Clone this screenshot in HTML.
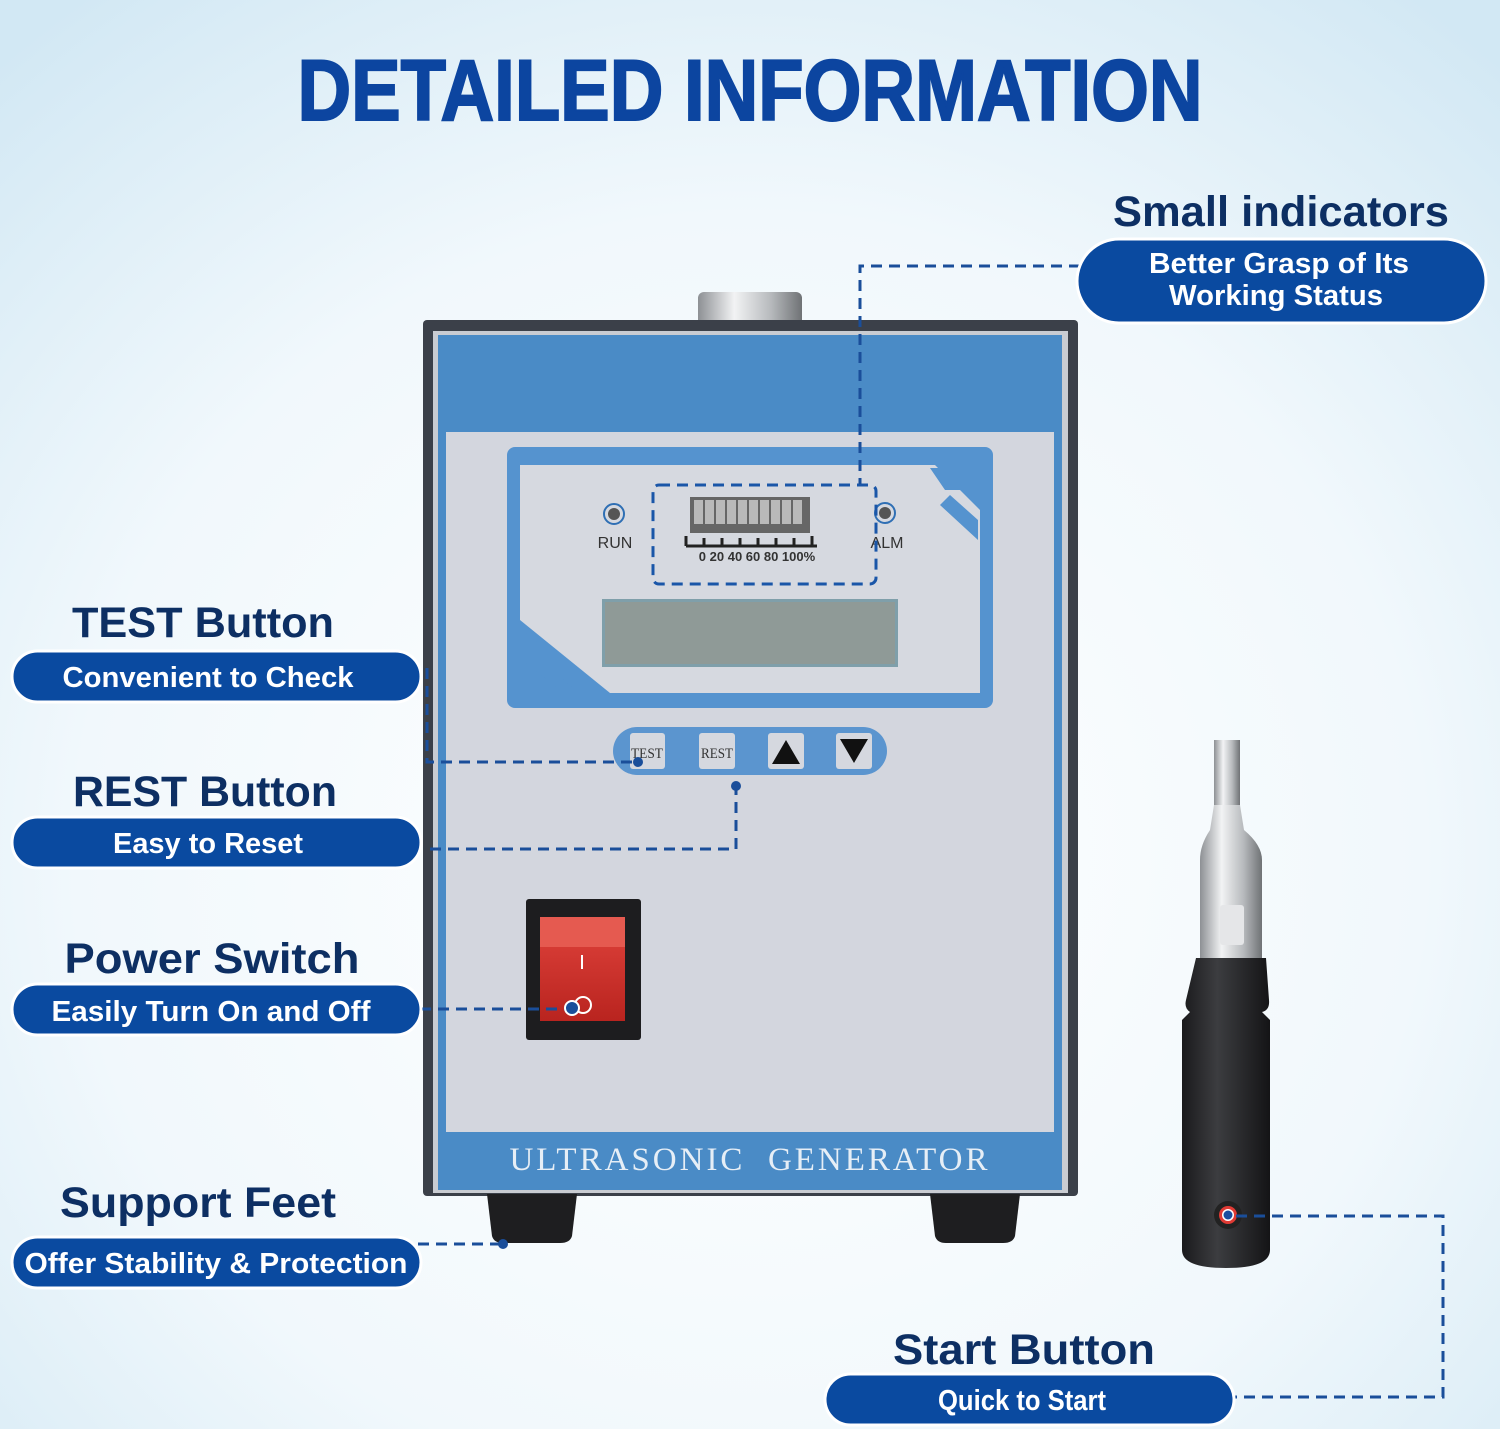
<!DOCTYPE html>
<html><head><meta charset="utf-8"><style>
html,body{margin:0;padding:0;width:1500px;height:1429px;overflow:hidden}
</style></head><body>
<svg width="1500" height="1429" viewBox="0 0 1500 1429" xmlns="http://www.w3.org/2000/svg" font-family="Liberation Sans, sans-serif">
<defs>
<radialGradient id="bg" cx="0.5" cy="0.6" r="0.75">
<stop offset="0" stop-color="#ffffff"/><stop offset="0.6" stop-color="#f1f8fc"/><stop offset="1" stop-color="#d2e8f4"/>
</radialGradient>
<linearGradient id="silver" x1="0" x2="1"><stop offset="0" stop-color="#8d9094"/><stop offset="0.35" stop-color="#f2f3f4"/><stop offset="0.7" stop-color="#b7babd"/><stop offset="1" stop-color="#6f7275"/></linearGradient>
<linearGradient id="blk" x1="0" x2="1"><stop offset="0" stop-color="#1a1a1c"/><stop offset="0.4" stop-color="#3c3d40"/><stop offset="1" stop-color="#141416"/></linearGradient>
<linearGradient id="red" x1="0" y1="0" x2="0" y2="1"><stop offset="0" stop-color="#e0433c"/><stop offset="1" stop-color="#b9241f"/></linearGradient>
</defs>
<rect width="1500" height="1429" fill="url(#bg)"/>
<text x="750" y="120" text-anchor="middle" font-size="86" font-weight="bold" fill="#0c45a0" textLength="905" lengthAdjust="spacingAndGlyphs" stroke="#0c45a0" stroke-width="2">DETAILED INFORMATION</text>

<!-- device -->
<rect x="698" y="292" width="104" height="34" rx="6" fill="url(#silver)"/>
<rect x="423" y="320" width="655" height="876" rx="4" fill="#3b4049"/>
<rect x="433" y="331" width="635" height="862" fill="#c9ccd2"/>
<rect x="438" y="335" width="624" height="855" fill="#4a8bc6"/>
<rect x="446" y="432" width="608" height="700" fill="#d3d6de"/>
<text x="750" y="1170" text-anchor="middle" font-family="Liberation Serif, serif" font-size="33" fill="#e6eef6" letter-spacing="3" xml:space="preserve">ULTRASONIC  GENERATOR</text>
<!-- display -->
<rect x="507" y="447" width="486" height="261" rx="8" fill="#5593cf"/>
<path d="M520 465 H935 L980 510 V693 H610 L520 620 Z" fill="#d6d9e0"/>
<path d="M930 468 L960 468 L975 490 L945 490Z M950 495 L978 520 L978 540 L940 505Z" fill="#5593cf"/>
<path d="M522 630 L560 660 L560 690 L522 660Z M540 640 L600 690 L575 690 L535 655Z" fill="#5593cf"/>
<rect x="602" y="599" width="296" height="68" fill="#7f9faa"/>
<rect x="605" y="602" width="290" height="62" fill="#8f9a97"/>
<circle cx="614" cy="514" r="10" fill="none" stroke="#2f6fb4" stroke-width="2"/><circle cx="614" cy="514" r="6" fill="#555"/>
<circle cx="885" cy="513" r="10" fill="none" stroke="#2f6fb4" stroke-width="2"/><circle cx="885" cy="513" r="6" fill="#555"/>
<text x="615" y="548" text-anchor="middle" font-size="16" fill="#333">RUN</text>
<text x="887" y="548" text-anchor="middle" font-size="16" fill="#333">ALM</text>
<rect x="690" y="497" width="120" height="36" fill="#666"/>
<g fill="#b9b9b9"><rect x="694" y="500" width="9" height="24"/><rect x="705" y="500" width="9" height="24"/><rect x="716" y="500" width="9" height="24"/><rect x="727" y="500" width="9" height="24"/><rect x="738" y="500" width="9" height="24"/><rect x="749" y="500" width="9" height="24"/><rect x="760" y="500" width="9" height="24"/><rect x="771" y="500" width="9" height="24"/><rect x="782" y="500" width="9" height="24"/><rect x="793" y="500" width="9" height="24"/></g>
<path d="M686 546 H817 M686 536 V546 M704 538 V546 M722 538 V546 M740 538 V546 M758 538 V546 M776 538 V546 M794 538 V546 M812 536 V546" stroke="#222" stroke-width="3" fill="none"/>
<text x="757" y="561" text-anchor="middle" font-size="13" font-weight="bold" fill="#333">0  20 40 60 80 100%</text>
<rect x="653" y="485" width="223" height="99" rx="6" fill="none" stroke="#1a56a8" stroke-width="3" stroke-dasharray="11 7"/>
<!-- buttons -->
<rect x="613" y="727" width="274" height="48" rx="24" fill="#5b95cf"/>
<rect x="630" y="733" width="35" height="36" rx="3" fill="#d5d8df"/>
<rect x="699" y="733" width="36" height="36" rx="3" fill="#d5d8df"/>
<rect x="768" y="733" width="36" height="36" rx="3" fill="#d5d8df"/>
<rect x="836" y="733" width="36" height="36" rx="3" fill="#d5d8df"/>
<text x="647" y="758" text-anchor="middle" font-family="Liberation Serif, serif" font-size="15" fill="#333" textLength="32" lengthAdjust="spacingAndGlyphs">TEST</text>
<text x="717" y="758" text-anchor="middle" font-family="Liberation Serif, serif" font-size="15" fill="#333" textLength="32" lengthAdjust="spacingAndGlyphs">REST</text>
<path d="M772 764 L786 740 L800 764Z" fill="#111"/>
<path d="M840 739 L868 739 L854 763Z" fill="#111"/>
<!-- switch -->
<rect x="526" y="899" width="115" height="141" rx="3" fill="#1d1d1f"/>
<rect x="540" y="917" width="85" height="104" fill="url(#red)"/>
<rect x="540" y="917" width="85" height="30" fill="#e55a50"/>
<rect x="581" y="955" width="2" height="14" fill="#fff"/>
<circle cx="583" cy="1005" r="8" fill="none" stroke="#fff" stroke-width="2"/>
<!-- feet -->
<path d="M487 1194 H577 L572 1236 Q570 1243 560 1243 H503 Q494 1243 492 1236Z" fill="#1e1e20"/>
<path d="M930 1194 H1020 L1015 1236 Q1013 1243 1003 1243 H946 Q937 1243 935 1236Z" fill="#1e1e20"/>

<!-- handpiece -->
<rect x="1214" y="740" width="26" height="70" fill="url(#silver)"/>
<path d="M1214 805 L1240 805 L1244 830 Q1262 845 1262 860 V960 H1200 V860 Q1200 845 1210 830Z" fill="url(#silver)"/>
<rect x="1220" y="905" width="24" height="40" rx="3" fill="#e5e6e8"/>
<path d="M1196 958 H1266 L1269 1000 Q1270 1010 1262 1012 L1270 1020 V1250 Q1270 1268 1226 1268 Q1182 1268 1182 1250 V1020 L1190 1012 Q1184 1008 1186 1000Z" fill="url(#blk)"/>
<circle cx="1228" cy="1215" r="14" fill="#222"/>
<circle cx="1228" cy="1215" r="9" fill="#e03a34"/><circle cx="1228" cy="1215" r="6" fill="#fff"/><circle cx="1228" cy="1215" r="4.5" fill="#1a4ea0"/>

<!-- connectors -->
<g stroke="#1a4e9a" stroke-width="3" fill="none" stroke-dasharray="11 7">
<path d="M1080 266 H860 V484"/>
<path d="M427 668 V762 H638"/>
<path d="M430 849 H736 V786"/>
<path d="M420 1009 H573"/>
<path d="M418 1244 H503"/>
<path d="M1236 1216 H1443 V1397 H1233"/>
</g>
<g fill="#1a4e9a"><circle cx="638" cy="762" r="5"/><circle cx="736" cy="786" r="5"/><circle cx="572" cy="1008" r="7" stroke="#fff" stroke-width="2"/><circle cx="503" cy="1244" r="5"/></g>

<!-- labels -->
<g font-weight="bold" fill="#0d2f63" text-anchor="middle" font-size="43">
<text x="1281" y="226" textLength="336" lengthAdjust="spacingAndGlyphs">Small indicators</text>
<text x="203" y="637" textLength="262" lengthAdjust="spacingAndGlyphs">TEST Button</text>
<text x="205" y="806" textLength="264" lengthAdjust="spacingAndGlyphs">REST Button</text>
<text x="212" y="973" textLength="295" lengthAdjust="spacingAndGlyphs">Power Switch</text>
<text x="198" y="1217" textLength="276" lengthAdjust="spacingAndGlyphs">Support Feet</text>
<text x="1024" y="1364" textLength="262" lengthAdjust="spacingAndGlyphs">Start Button</text>
</g>
<g fill="#0a4aa0" stroke="#ffffff" stroke-width="3">
<rect x="1077" y="239" width="409" height="84" rx="42"/>
<rect x="12" y="651" width="409" height="51" rx="25.5"/>
<rect x="12" y="817" width="409" height="51" rx="25.5"/>
<rect x="12" y="984" width="409" height="51" rx="25.5"/>
<rect x="12" y="1237" width="409" height="51" rx="25.5"/>
<rect x="825" y="1374" width="409" height="51" rx="25.5"/>
</g>
<g font-weight="bold" fill="#ffffff" text-anchor="middle" font-size="29">
<text x="1279" y="273" textLength="260" lengthAdjust="spacingAndGlyphs">Better Grasp of Its</text>
<text x="1276" y="305" textLength="214" lengthAdjust="spacingAndGlyphs">Working Status</text>
<text x="208" y="687" textLength="291" lengthAdjust="spacingAndGlyphs">Convenient to Check</text>
<text x="208" y="853" textLength="190" lengthAdjust="spacingAndGlyphs">Easy to Reset</text>
<text x="211" y="1021" textLength="319" lengthAdjust="spacingAndGlyphs">Easily Turn On and Off</text>
<text x="216" y="1273" textLength="383" lengthAdjust="spacingAndGlyphs">Offer Stability &amp; Protection</text>
<text x="1022" y="1410" textLength="168" lengthAdjust="spacingAndGlyphs">Quick to Start</text>
</g>
</svg>
</body></html>
